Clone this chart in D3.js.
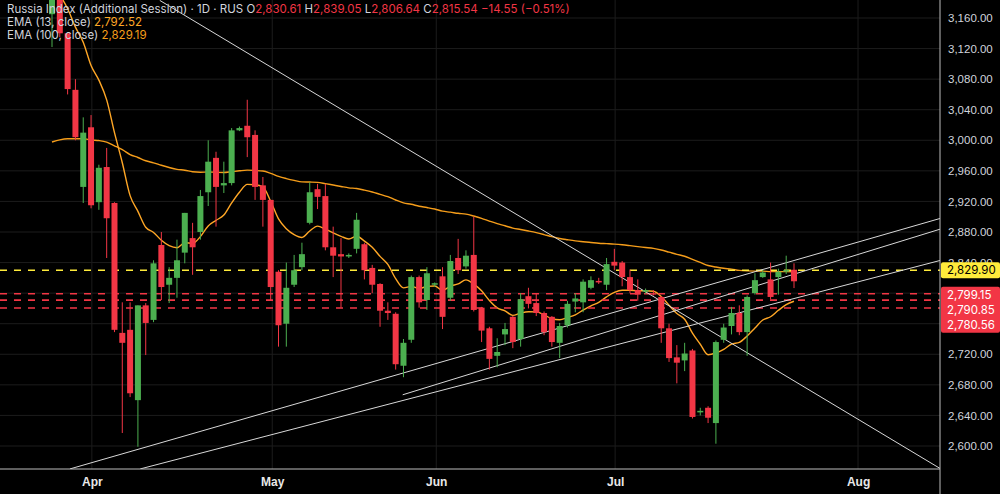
<!DOCTYPE html>
<html><head><meta charset="utf-8">
<script src="https://cdn.jsdelivr.net/npm/d3@7"></script>
<style>html,body{margin:0;background:#000;}svg{display:block;font-family:"Inter","Roboto",sans-serif;}</style>
</head><body><svg id="c" width="1000" height="494"></svg>
<script>
// OHLC per daily bar (trading-day index)
const opens  = [3165,3185,3140,3066,2939,3017,2919,2965,2918,2748,2752,2660,2784,2765,2863,2811,2820,2853,2872,2880,2932,2977,2941,2944,3013,3019,3007,2941,2922,2828,2760,2811,2834,2892,2936,2927,2860,2851,2848,2858,2864,2833,2812,2777,2773,2705,2739,2821,2791,2811,2822,2794,2846,2835,2850,2781,2754,2718,2746,2769,2740,2796,2787,2774,2769,2735,2758,2789,2788,2807,2816,2811,2841,2840,2821,2804,2802,2800,2795,2754,2716,2712,2725,2644,2650,2630,2739,2757,2774,2749,2800,2821,2818,2821,2830,2830.61];
const highs  = [3195,3195,3140,3080,3030,3033,2968,2990,2919,2788,2788,2784,2787,2843,2880,2834,2870,2905,2892,2935,3000,2985,2972,3016,3018,3053,3013,2952,2922,2830,2840,2850,2866,2945,2943,2943,2887,2872,2852,2905,2866,2837,2813,2788,2775,2740,2823,2823,2834,2814,2834,2850,2871,2856,2900,2782,2756,2741,2761,2770,2800,2807,2800,2776,2770,2761,2790,2800,2818,2822,2820,2846,2858,2842,2831,2818,2806,2804,2796,2760,2732,2735,2727,2650,2652,2738,2760,2782,2784,2797,2826,2830,2840,2832,2849,2839.05];
const lows   = [3122,3135,3060,3000,2918,2911,2909,2846,2749,2617,2664,2599,2719,2762,2791,2787,2794,2839,2824,2870,2914,2887,2931,2941,3012,2978,2922,2887,2791,2730,2730,2808,2830,2890,2910,2856,2821,2781,2846,2852,2818,2800,2756,2765,2700,2690,2735,2781,2778,2808,2753,2790,2825,2832,2776,2736,2700,2703,2732,2728,2730,2780,2770,2745,2730,2715,2755,2775,2775,2805,2812,2804,2830,2809,2800,2790,2799,2797,2735,2710,2682,2698,2636,2640,2630,2603,2735,2746,2745,2718,2798,2820,2792,2798,2825,2806.64];
const closes = [3185,3140,3067,3004,3010,2915,2964,2898,2752,2735,2669,2784,2761,2839,2808,2820,2843,2905,2860,2927,2972,2939,2944,3013,3016,3004,2939,2922,2808,2758,2807,2830,2851,2932,2926,2860,2849,2848,2850,2896,2830,2811,2777,2774,2707,2735,2821,2788,2826,2813,2769,2842,2830,2849,2778,2751,2714,2723,2753,2736,2792,2786,2774,2749,2736,2757,2786,2793,2815,2817,2815,2838,2836,2821,2804,2798,2804,2799,2754,2715,2709,2721,2638,2646,2637,2736,2755,2774,2749,2795,2817,2827,2795,2828,2830.09,2815.54];
const monthLabels = ["Apr","May","Jun","Jul","Aug"];
const monthIndex  = [5.1,28.2,49.2,72.1,103.2];
const priceTicks = d3.range(2600,3161,40);
const hiddenTicks = [2760,2800];
const emaSeed = {e13:3200, e100:2994};
const emaLast = {e13:"2,792.52", e100:"2,829.19"};
const levelYellow = 2829.90;
const levelsRed = [2799.15,2790.85,2780.56];
// trend lines as [bar index, price] pairs
const trendLines = [
  [[13.8,3183],[113.8,2570]],
  [[2.3,2570],[113.8,2898]],
  [[44.9,2667],[113.8,2884]],
  [[11.3,2570],[113.8,2843]]
];

const svg = d3.select("#c");
const W=940, H=469;
const x = d3.scaleLinear().domain([0,95]).range([52,794]);
const y = d3.scaleLinear().domain([2600,3160]).range([446,18]);
const bars = opens.map((o,i)=>({i,o,h:highs[i],l:lows[i],c:closes[i]}));

svg.append("defs").append("clipPath").attr("id","pc").append("rect").attr("width",W).attr("height",H);
const g = svg.append("g").attr("clip-path","url(#pc)");
g.selectAll(".hg").data(priceTicks).join("line").attr("x1",0).attr("x2",W).attr("y1",d=>y(d)).attr("y2",d=>y(d)).attr("stroke","#1c1c1c");
g.selectAll(".vg").data(monthIndex).join("line").attr("x1",d=>x(d)).attr("x2",d=>x(d)).attr("y1",0).attr("y2",H).attr("stroke","#1c1c1c");

function ema(p,seed){let e=seed;return closes.map(c=>{e=e+(c-e)*2/(p+1);return e;});}
const e13=ema(13,emaSeed.e13), e100=ema(100,emaSeed.e100);
const line=d3.line().x((d,i)=>x(i)).y(d=>y(d)).curve(d3.curveMonotoneX);
g.append("path").attr("d",line(e100)).attr("fill","none").attr("stroke","#f59d1a").attr("stroke-width",1.4);
g.append("path").attr("d",line(e13)).attr("fill","none").attr("stroke","#ffa726").attr("stroke-width",1.4);

g.append("line").attr("x1",0).attr("x2",W).attr("y1",y(levelYellow)).attr("y2",y(levelYellow)).attr("stroke","#ffeb3b").attr("stroke-width",1.6).attr("stroke-dasharray","7,7");
g.selectAll(".rl").data(levelsRed).join("line").attr("x1",0).attr("x2",W).attr("y1",d=>y(d)).attr("y2",d=>y(d)).attr("stroke","#f23645").attr("stroke-width",1.6).attr("stroke-dasharray","7,7");

g.selectAll(".tl").data(trendLines).join("line").attr("x1",d=>x(d[0][0])).attr("y1",d=>y(d[0][1])).attr("x2",d=>x(d[1][0])).attr("y2",d=>y(d[1][1])).attr("stroke","#d8d8d8").attr("stroke-width",1);

const col=d=>d.c>=d.o?"#4caf50":"#f23645";
g.selectAll(".wk").data(bars).join("line").attr("x1",d=>x(d.i)).attr("x2",d=>x(d.i)).attr("y1",d=>y(d.h)).attr("y2",d=>y(d.l)).attr("stroke",col).attr("stroke-width",1);
g.selectAll(".bd").data(bars).join("rect").attr("x",d=>x(d.i)-3).attr("width",6)
 .attr("y",d=>y(Math.max(d.o,d.c))).attr("height",d=>Math.max(1.5,Math.abs(y(d.o)-y(d.c)))).attr("fill",col);

svg.append("line").attr("x1",0).attr("x2",W).attr("y1",H).attr("y2",H).attr("stroke","#bdbdbd");
svg.append("line").attr("x1",W).attr("x2",W).attr("y1",0).attr("y2",494).attr("stroke","#bdbdbd");

const ya=svg.append("g").attr("transform",`translate(${W},0)`).call(d3.axisRight(y).tickValues(priceTicks.filter(t=>!hiddenTicks.includes(t))).tickSize(0).tickPadding(8).tickFormat(d3.format(",.2f")));
ya.select(".domain").remove();
ya.selectAll("text").attr("fill","#d1d4dc").style("font-size","11.5px");
const xa=svg.append("g").attr("transform",`translate(0,${H})`).call(d3.axisBottom(x).tickValues(monthIndex).tickSize(0).tickPadding(8).tickFormat((d,i)=>monthLabels[i]));
xa.select(".domain").remove();
xa.selectAll("text").attr("fill","#e8e8e8").style("font-size","12px").style("font-weight","600");

svg.append("rect").attr("x",W+1).attr("y",y(levelYellow)-8).attr("width",59).attr("height",16).attr("fill","#ffeb3b").attr("rx",2);
svg.append("text").attr("x",W+7).attr("y",y(levelYellow)+4).text(d3.format(",.2f")(levelYellow)).attr("fill","#000").style("font-size","11.5px");
svg.append("rect").attr("x",W+1).attr("y",y(levelsRed[0])-7).attr("width",59).attr("height",46).attr("fill","#f23645").attr("rx",2);
svg.selectAll(".rt").data(levelsRed).join("text").attr("x",W+7).attr("y",(d,i)=>y(levelsRed[0])+5+i*15).text(d=>d3.format(",.2f")(d)).attr("fill","#fff").style("font-size","11.5px");

const last=bars[bars.length-1], prev=closes[closes.length-2], chg=last.c-prev;
const f=d3.format(",.2f");
const lg=svg.append("g").style("font-size","11.5px");
const t1=lg.append("text").attr("x",7).attr("y",13).attr("fill","#d1d4dc");
t1.append("tspan").text("Russia Index (Additional Session)  ·  1D · RUS  ");
[["O",last.o],["H",last.h],["L",last.l],["C",last.c]].forEach(([k,v])=>{t1.append("tspan").text(k);t1.append("tspan").attr("fill","#f23645").text(f(v)+" ");});
t1.append("tspan").attr("fill","#f23645").text(` −${f(Math.abs(chg))} (−${(Math.abs(chg)/prev*100).toFixed(2)}%)`);
const t2=lg.append("text").attr("x",7).attr("y",26).attr("fill","#d1d4dc");
t2.append("tspan").text("EMA (13, close)  ");t2.append("tspan").attr("fill","#ffa726").text(emaLast.e13);
const t3=lg.append("text").attr("x",7).attr("y",39).attr("fill","#d1d4dc");
t3.append("tspan").text("EMA (100, close)  ");t3.append("tspan").attr("fill","#f59d1a").text(emaLast.e100);
</script></body></html>
